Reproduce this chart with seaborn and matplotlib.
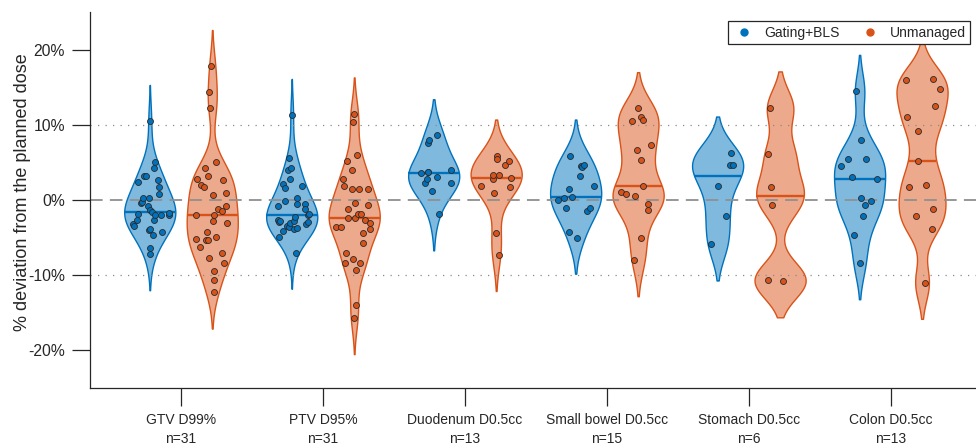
import numpy as np
import pandas as pd
import matplotlib
matplotlib.use("Agg")
import matplotlib.pyplot as plt
import matplotlib.colors as mcolors
from matplotlib.collections import PolyCollection
from matplotlib.lines import Line2D
from matplotlib.ticker import FuncFormatter
import seaborn as sns

# categories and methods
structures = ["GTV D99%", "PTV D95%", "Duodenum D0.5cc", "Small bowel D0.5cc",
              "Stomach D0.5cc", "Colon D0.5cc"]
methods = ["Gating+BLS", "Unmanaged"]

# % deviation from the planned dose
gtv_gating = [10.5, 5.1, 4.2, 3.2, 3.2, 2.7, 2.4, 1.7, 0.8, 0.2, 0.2, -0.3, -0.4, -0.8,
              -1.3, -1.6, -1.7, -2.0, -2.0, -2.0, -1.8, -2.6, -2.6, -3.2, -3.5, -3.8,
              -4.0, -4.2, -4.7, -6.4, -7.2]
gtv_unmanaged = [17.8, 14.3, 12.2, 5.0, 4.3, 3.2, 2.8, 2.7, 2.0, 1.7, 0.9, 0.6, -0.8, -1.2,
                 -1.4, -2.0, -2.0, -2.8, -3.1, -4.2, -4.9, -5.2, -5.3, -5.3, -6.2, -7.0,
                 -7.7, -8.4, -9.5, -10.7, -12.3]
ptv_gating = [11.3, 5.6, 4.3, 4.0, 2.8, 2.1, 1.9, 1.6, 0.2, -0.1, -0.5, -0.5, -0.8, -1.2,
              -1.8, -2.0, -2.3, -2.6, -2.8, -2.9, -2.8, -2.9, -3.2, -3.7, -3.8, -3.5,
              -3.6, -4.1, -4.9, -7.0, -3.0]
ptv_unmanaged = [11.5, 10.4, 6.0, 5.2, 4.0, 2.8, 1.9, 1.5, 1.5, 1.5, -0.4, -0.7, -1.2,
                 -1.8, -1.9, -2.4, -2.4, -2.7, -3.0, -3.6, -3.9, -3.6, -4.4, -5.7, -7.0,
                 -7.9, -8.4, -8.4, -9.3, -13.9, -15.7]
duo_gating = [8.6, 8.0, 7.6, 3.7, 3.6, 3.7, 4.0, 3.0, 2.8, 2.3, 2.2, 1.2, -1.9]
duo_unmanaged = [5.9, 5.4, 5.2, 4.6, 3.3, 3.3, 2.9, 2.8, 1.7, 1.9, 0.9, -4.4, -7.3]
bowel_gating = [5.9, 4.7, 4.5, 4.4, 3.2, 1.8, 1.5, 0.4, 0.3, 0.0, -1.1, -1.0, -1.5, -4.3, -5.0]
bowel_unmanaged = [12.2, 11.1, 10.6, 10.5, 7.3, 6.7, 5.3, 1.9, 0.8, 1.1, 0.5, -0.5, -1.3,
                   -5.0, -8.0]
stomach_gating = [6.3, 4.7, 4.6, 1.8, -2.1, -5.9]
stomach_unmanaged = [12.3, 6.1, 1.7, -0.6, -10.6, -10.8]
colon_gating = [14.5, 8.0, 5.4, 5.4, 4.5, 3.1, 2.8, 0.2, -0.1, -0.7, -2.1, -4.7, -8.4]
colon_unmanaged = [16.0, 16.1, 14.8, 12.5, 11.0, 9.2, 5.2, 1.7, 2.0, -1.2, -2.1, -3.8, -11.0]

gating = [gtv_gating, ptv_gating, duo_gating, bowel_gating, stomach_gating, colon_gating]
unmanaged = [gtv_unmanaged, ptv_unmanaged, duo_unmanaged, bowel_unmanaged,
             stomach_unmanaged, colon_unmanaged]

colors = {"Gating+BLS": "#0072BD", "Unmanaged": "#D95319"}
offsets = {"Gating+BLS": -0.22, "Unmanaged": 0.22}
BW = 2.4  # fixed kde bandwidth in % units

rng = np.random.default_rng(7)
rows = []
for i, s in enumerate(structures):
    for m, vals in zip(methods, [gating[i], unmanaged[i]]):
        vals = np.asarray(vals)
        # scatter jitter scaled by the local density, like the violin outline
        dens = np.exp(-0.5 * ((vals[:, None] - vals[None, :]) / BW) ** 2).sum(1)
        grid = np.linspace(vals.min() - 5, vals.max() + 5, 300)
        dmax = np.exp(-0.5 * ((grid[:, None] - vals[None, :]) / BW) ** 2).sum(1).max()
        jit = rng.uniform(-1, 1, len(vals)) * 0.14 * dens / dmax
        for v, j in zip(vals, jit):
            rows.append({"structure": s, "method": m, "value": v,
                         "pos": i + offsets[m], "xj": i + offsets[m] + j})
df = pd.DataFrame(rows)

sns.set_style("ticks")
plt.rcParams["font.family"] = ["Liberation Sans", "DejaVu Sans"]

fig = plt.figure(figsize=(9.76, 4.48), dpi=100)
ax = fig.add_axes([90 / 976, 60 / 448, 886 / 976, 376 / 448])


def light(c, a=0.5):
    r, g, b = mcolors.to_rgb(c)
    return (1 - a + a * r, 1 - a + a * g, 1 - a + a * b)


for m in methods:
    sub = df[df["method"] == m]
    sns.violinplot(data=sub, x="pos", y="value", native_scale=True, orient="x",
                   color=light(colors[m]), linecolor=colors[m], linewidth=1,
                   saturation=1, inner=None, width=0.36, density_norm="width",
                   bw_method=lambda k: BW / np.std(k.dataset, ddof=1), cut=2,
                   gridsize=200, ax=ax)

# median lines across each violin
for coll in ax.collections:
    if not isinstance(coll, PolyCollection):
        continue
    v = coll.get_paths()[0].vertices
    c = (v[:, 0].min() + v[:, 0].max()) / 2
    i = int(round(c))
    m = "Gating+BLS" if c < i else "Unmanaged"
    med = np.median(df[(df["structure"] == structures[i]) & (df["method"] == m)]["value"])
    left = v[v[:, 0] < c - 1e-9]
    right = v[v[:, 0] > c + 1e-9]
    lo = left[np.argsort(left[:, 1])]
    ro = right[np.argsort(right[:, 1])]
    xl = np.interp(med, lo[:, 1], lo[:, 0])
    xr = np.interp(med, ro[:, 1], ro[:, 0])
    ax.plot([xl, xr], [med, med], color=colors[m], lw=1.7, zorder=2.5,
            solid_capstyle="butt")

for m in methods:
    sub = df[df["method"] == m]
    sns.stripplot(data=sub, x="xj", y="value", native_scale=True, orient="x",
                  color=colors[m], edgecolor="#2a2a2a", linewidth=0.6, size=4.3,
                  jitter=False, zorder=3, ax=ax)

ax.axhline(0, color="#8f8f8f", lw=1.3, dashes=(7, 4), zorder=2)
for yv in (10, -10):
    ax.axhline(yv, color="#8a8a8a", lw=0.9, linestyle=(0, (1, 5)), zorder=2)

ax.set_xlim(-0.641, 5.6)
ax.set_ylim(-25, 25)
ax.set_yticks([-20, -10, 0, 10, 20])
ax.yaxis.set_major_formatter(FuncFormatter(lambda v, p: f"{v:.0f}%"))
ax.set_xticks(range(len(structures)))
ax.set_xticklabels([f"{s}\nn={len(g)}" for s, g in zip(structures, gating)],
                   linespacing=1.45)
ax.set_xlabel("")
ax.set_ylabel("% deviation from the planned dose", fontsize=13, color="#262626")
ax.yaxis.set_label_coords(-0.067, 0.521)

for side in ("top", "right"):
    ax.spines[side].set_visible(False)
for side in ("left", "bottom"):
    ax.spines[side].set_color("#262626")
    ax.spines[side].set_linewidth(0.9)
ax.tick_params(direction="out", length=13, width=0.9, color="#262626",
               labelsize=10, labelcolor="#262626", pad=5)
ax.tick_params(axis="y", labelsize=11.3)

handles = [Line2D([], [], marker="o", linestyle="none", color=colors[m], markersize=5)
           for m in methods]
leg = ax.legend(handles, methods, ncol=2, loc="upper right",
                bbox_to_anchor=(0.993, 0.975), borderaxespad=0, fancybox=False,
                framealpha=1, edgecolor="#262626", fontsize=10, handletextpad=0.54,
                columnspacing=1.26, borderpad=0.3, handlelength=1.8)
leg.get_frame().set_linewidth(0.9)

fig.savefig("out.png", dpi=100)
